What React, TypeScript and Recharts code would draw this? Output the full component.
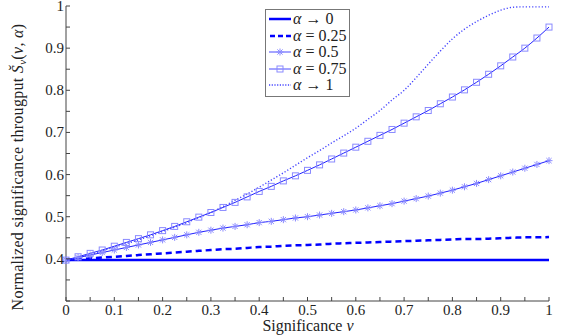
import React from "react";
import { LineChart, Line, XAxis, YAxis, Legend } from "recharts";

// significance v, sampled every 0.025
const V = [
  0, 0.025, 0.05, 0.075, 0.1, 0.125, 0.15, 0.175, 0.2, 0.225, 0.25, 0.275, 0.3, 0.325,
  0.35, 0.375, 0.4, 0.425, 0.45, 0.475, 0.5, 0.525, 0.55, 0.575, 0.6, 0.625, 0.65, 0.675,
  0.7, 0.725, 0.75, 0.775, 0.8, 0.825, 0.85, 0.875, 0.9, 0.925, 0.95, 0.975, 1,
];

const A0 = [
  0.397, 0.397, 0.397, 0.397, 0.397, 0.397, 0.397, 0.397, 0.397, 0.397, 0.397, 0.397, 0.397, 0.397,
  0.397, 0.397, 0.397, 0.397, 0.397, 0.397, 0.397, 0.397, 0.397, 0.397, 0.397, 0.397, 0.397, 0.397,
  0.397, 0.397, 0.397, 0.397, 0.397, 0.397, 0.397, 0.397, 0.397, 0.397, 0.397, 0.397, 0.397,
];
const A025 = [
  0.397, 0.399, 0.401, 0.403, 0.405, 0.407, 0.409, 0.411, 0.413, 0.415, 0.417, 0.419, 0.421, 0.423,
  0.424, 0.426, 0.428, 0.429, 0.431, 0.432, 0.433, 0.434, 0.436, 0.437, 0.438, 0.439, 0.44, 0.441,
  0.442, 0.443, 0.444, 0.445, 0.446, 0.447, 0.447, 0.448, 0.449, 0.45, 0.451, 0.451, 0.452,
];
const A05 = [
  0.397, 0.403, 0.409, 0.415, 0.421, 0.427, 0.433, 0.439, 0.445, 0.451, 0.457, 0.463, 0.468, 0.473,
  0.477, 0.481, 0.486, 0.489, 0.493, 0.497, 0.5, 0.504, 0.508, 0.512, 0.516, 0.521, 0.526, 0.531,
  0.537, 0.543, 0.549, 0.556, 0.563, 0.571, 0.579, 0.588, 0.597, 0.606, 0.615, 0.624, 0.633,
];
const A075 = [
  0.397, 0.405, 0.413, 0.421, 0.43, 0.439, 0.448, 0.457, 0.467, 0.477, 0.488, 0.499, 0.51, 0.522,
  0.534, 0.547, 0.56, 0.572, 0.585, 0.597, 0.61, 0.623, 0.637, 0.651, 0.665, 0.679, 0.693, 0.707,
  0.722, 0.737, 0.752, 0.768, 0.784, 0.801, 0.819, 0.838, 0.858, 0.879, 0.9, 0.924, 0.95,
];
const A1 = [
  0.397, 0.403, 0.41, 0.419, 0.428, 0.436, 0.445, 0.455, 0.465, 0.475, 0.486, 0.498, 0.51, 0.524,
  0.539, 0.554, 0.57, 0.587, 0.604, 0.622, 0.64, 0.657, 0.675, 0.692, 0.71, 0.731, 0.752, 0.777,
  0.8, 0.83, 0.862, 0.893, 0.922, 0.945, 0.963, 0.978, 0.99, 0.997, 0.998, 0.998, 0.998,
];

const X_TICKS = [
  0, 0.05, 0.1, 0.15, 0.2, 0.25, 0.3, 0.35, 0.4, 0.45, 0.5, 0.55, 0.6, 0.65, 0.7, 0.75, 0.8, 0.85,
  0.9, 0.95, 1,
];
const X_LABELS = ["0", "0.1", "0.2", "0.3", "0.4", "0.5", "0.6", "0.7", "0.8", "0.9", "1"];
const Y_TICKS = [0.3, 0.35, 0.4, 0.45, 0.5, 0.55, 0.6, 0.65, 0.7, 0.75, 0.8, 0.85, 0.9, 0.95, 1];
const Y_LABELS = ["0.4", "0.5", "0.6", "0.7", "0.8", "0.9", "1"];

const data = V.map((v, i) => ({ v, a0: A0[i], a025: A025[i], a05: A05[i], a075: A075[i], a1: A1[i] }));

const SERIF = { fontFamily: '"Liberation Serif"' };
const AXIS = "#444";
const BLUE = "#0000ff";
const LIGHT = "#8a8aff";

const fmt = (n: number) => (Math.abs(n - 1) < 1e-9 ? "1" : Math.abs(n) < 1e-9 ? "0" : n.toFixed(1));
const isLabel = (n: number, labels: string[]) =>
  Math.abs(n * 10 - Math.round(n * 10)) < 1e-6 && labels.includes(fmt(n));

const XTick = (p: any) => {
  const val = p.payload.value;
  const show = isLabel(val, X_LABELS);
  return (
    <g>
      <line x1={p.x} y1={p.y} x2={p.x} y2={p.y - 4} stroke={AXIS} />
      {show && (
        <text x={p.x} y={p.y + 14} textAnchor="middle" style={SERIF} fontSize={15} fill="#222">
          {fmt(val)}
        </text>
      )}
    </g>
  );
};

const YTick = (p: any) => {
  const val = p.payload.value;
  const show = isLabel(val, Y_LABELS);
  return (
    <g>
      <line x1={p.x} y1={p.y} x2={p.x + 4} y2={p.y} stroke={AXIS} />
      {show && (
        <text x={p.x - 2} y={p.y + 5} textAnchor="end" style={SERIF} fontSize={15} fill="#222">
          {fmt(val)}
        </text>
      )}
    </g>
  );
};

const Star = (p: any) => {
  const { cx, cy } = p;
  if (cx == null || cy == null) return null;
  const r = 3.5;
  return (
    <g key={p.index} stroke={LIGHT} strokeWidth={1}>
      <line x1={cx - r} y1={cy} x2={cx + r} y2={cy} />
      <line x1={cx} y1={cy - r} x2={cx} y2={cy + r} />
      <line x1={cx - 2.6} y1={cy - 2.6} x2={cx + 2.6} y2={cy + 2.6} />
      <line x1={cx - 2.6} y1={cy + 2.6} x2={cx + 2.6} y2={cy - 2.6} />
    </g>
  );
};

const Square = (p: any) => {
  const { cx, cy } = p;
  if (cx == null || cy == null) return null;
  return <rect key={p.index} x={cx - 3} y={cy - 3} width={6} height={6} fill="none" stroke={LIGHT} strokeWidth={1} />;
};

const LEGEND = [
  { key: "a0", sym: "\u2192", val: "0" },
  { key: "a025", sym: "=", val: "0.25" },
  { key: "a05", sym: "=", val: "0.5" },
  { key: "a075", sym: "=", val: "0.75" },
  { key: "a1", sym: "\u2192", val: "1" },
];

const sample = (key: string) => {
  switch (key) {
    case "a0":
      return <line x1={2} y1={8} x2={24} y2={8} stroke={BLUE} strokeWidth={2.5} />;
    case "a025":
      return <line x1={3} y1={8} x2={24} y2={8} stroke={BLUE} strokeWidth={2.5} strokeDasharray="5 3" />;
    case "a05":
      return (
        <g>
          <line x1={2} y1={8} x2={24} y2={8} stroke="#4a4aff" strokeWidth={1} />
          <Star cx={13} cy={8} />
        </g>
      );
    case "a075":
      return (
        <g>
          <line x1={2} y1={8} x2={24} y2={8} stroke="#4a4aff" strokeWidth={1} />
          <Square cx={13} cy={8} />
        </g>
      );
    default:
      return <line x1={2} y1={8} x2={24} y2={8} stroke="#4444ff" strokeWidth={1.4} strokeDasharray="1.2 1.5" />;
  }
};

const LegendBox = () => (
  <div
    style={{
      ...SERIF,
      border: "1px solid #777",
      background: "#fff",
      padding: "1px 3px 2px 1px",
      fontSize: 16,
      color: "#222",
      lineHeight: "16.5px",
    }}
  >
    {LEGEND.map((e) => (
      <div key={e.key} style={{ display: "flex", alignItems: "center", whiteSpace: "nowrap" }}>
        <svg width={26} height={16}>{sample(e.key)}</svg>
        <span>
          <i>α</i> {e.sym} {e.val}
        </span>
      </div>
    ))}
  </div>
);

const YLabel = () => (
  <text
    transform="translate(23,167) rotate(-90)"
    textAnchor="middle"
    style={SERIF}
    fontSize={16}
    letterSpacing={0.3}
    fill="#222"
  >
    Normalized significance througput{" "}
    <tspan fontStyle="italic">S̆</tspan>
    <tspan fontStyle="italic" fontSize={11} dy={3}>v</tspan>
    <tspan dy={-3}>(</tspan>
    <tspan fontStyle="italic">v</tspan>, <tspan fontStyle="italic">α</tspan>)
  </text>
);

const XLabel = () => (
  <text x={308} y={331} textAnchor="middle" style={SERIF} fontSize={16} fill="#222">
    Significance <tspan fontStyle="italic">v</tspan>
  </text>
);

export default function App() {
  return (
    <div style={{ ...SERIF, position: "absolute", left: 0, top: 0, width: 564, height: 336, background: "#fff" }}>
      <LineChart width={564} height={336} data={data} margin={{ top: 6, right: 15, bottom: 0, left: 0 }}>
        <XAxis
          dataKey="v"
          type="number"
          domain={[0, 1]}
          ticks={X_TICKS}
          interval={0}
          tickSize={0}
          tickMargin={0}
          tick={<XTick />}
          stroke={AXIS}
          height={35}
          label={() => <XLabel />}
        />
        <YAxis
          type="number"
          domain={[0.3, 1]}
          ticks={Y_TICKS}
          interval={0}
          tickSize={0}
          tickMargin={0}
          tick={<YTick />}
          stroke={AXIS}
          width={66}
          label={() => <YLabel />}
        />
        <Legend
          layout="vertical"
          align="center"
          verticalAlign="middle"
          wrapperStyle={{ left: 265, top: 9, width: "auto" }}
          content={<LegendBox />}
        />
        <Line type="monotone" dataKey="a0" stroke={BLUE} strokeWidth={2.5} dot={false} isAnimationActive={false} />
        <Line
          type="monotone"
          dataKey="a025"
          stroke={BLUE}
          strokeWidth={2.5}
          strokeDasharray="6 4"
          dot={false}
          isAnimationActive={false}
        />
        <Line type="monotone" dataKey="a05" stroke="#2020ff" strokeWidth={1} dot={<Star />} isAnimationActive={false} />
        <Line type="monotone" dataKey="a075" stroke="#2020ff" strokeWidth={1} dot={<Square />} isAnimationActive={false} />
        <Line
          type="monotone"
          dataKey="a1"
          stroke="#4444ff"
          strokeWidth={1.4}
          strokeDasharray="1.2 2"
          dot={false}
          isAnimationActive={false}
        />
      </LineChart>
    </div>
  );
}
